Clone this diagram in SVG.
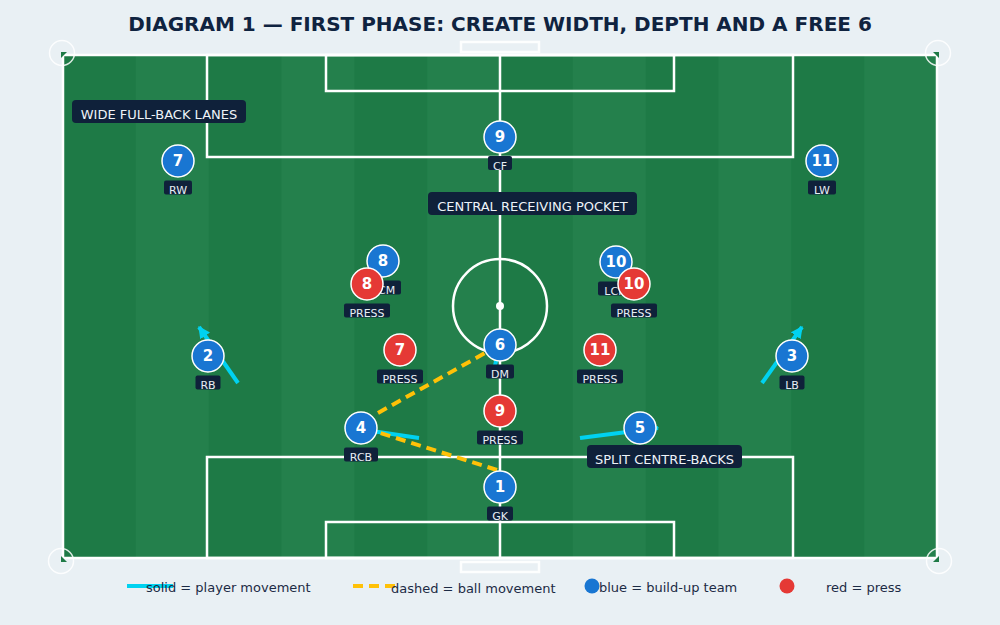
<svg xmlns="http://www.w3.org/2000/svg" width="1000" height="625" viewBox="0 0 1000 625">
  <defs>
    <marker id="arrow" viewBox="0 0 10 10" refX="9" refY="5" markerWidth="3" markerHeight="3" orient="auto" markerUnits="strokeWidth">
      <path d="M0,0 L10,5 L0,10 z" fill="#00d2f0"/>
    </marker>
  </defs>
  <style>
    .title { font-family: "DejaVu Sans", sans-serif; font-weight: bold; font-size: 20px; fill: #0f2340; }
    .line { fill: none; stroke: #ffffff; stroke-width: 2.5; }
    .corner { fill: none; stroke: #ffffff; stroke-opacity: 0.85; stroke-width: 1.5; }
    .flag { fill: #1e7a46; }
    .stripe { fill: #24804c; }
    .blue { fill: #1976d2; stroke: #ffffff; stroke-width: 1.5; }
    .red { fill: #e53935; stroke: #ffffff; stroke-width: 1.5; }
    .num { font-family: "DejaVu Sans", sans-serif; font-weight: bold; font-size: 15px; fill: #ffffff; text-anchor: middle; }
    .tag { fill: #0f213a; }
    .tagtxt { font-family: "DejaVu Sans", sans-serif; font-size: 11px; fill: #e8eef5; text-anchor: middle; }
    .callout { fill: #0f213a; }
    .calltxt { font-family: "DejaVu Sans", sans-serif; font-size: 13px; fill: #eef3f8; text-anchor: middle; }
    .move { fill: none; stroke: #00d2f0; stroke-width: 4; }
    .ball { fill: none; stroke: #ffc107; stroke-width: 4; stroke-dasharray: 10 6; }
    .legtxt { font-family: "DejaVu Sans", sans-serif; font-size: 13px; fill: #1c2b45; }
  </style>

  <rect x="0" y="0" width="1000" height="625" fill="#e9f0f4"/>
  <text class="title" x="500" y="31" text-anchor="middle">DIAGRAM 1 — FIRST PHASE: CREATE WIDTH, DEPTH AND A FREE 6</text>

  <g id="pitch">
    <rect x="63" y="55" width="874" height="503" fill="#1e7a46"/>
    <rect class="stripe" x="135.8" y="55" width="72.9" height="503"/>
    <rect class="stripe" x="281.5" y="55" width="72.9" height="503"/>
    <rect class="stripe" x="427.2" y="55" width="72.8" height="503"/>
    <rect class="stripe" x="572.8" y="55" width="72.9" height="503"/>
    <rect class="stripe" x="718.5" y="55" width="72.8" height="503"/>
    <rect class="stripe" x="864.2" y="55" width="72.8" height="503"/>
    <rect class="line" x="63" y="55" width="874" height="503"/>
    <line class="line" x1="500" y1="55" x2="500" y2="558"/>
    <circle class="line" cx="500" cy="306" r="47"/>
    <circle cx="500" cy="306" r="4" fill="#ffffff"/>
    <rect class="line" x="207" y="55" width="586" height="102"/>
    <rect class="line" x="326" y="55" width="348" height="36"/>
    <rect class="line" x="207" y="457" width="586" height="101"/>
    <rect class="line" x="326" y="522" width="348" height="36"/>
    <rect x="461" y="42" width="78" height="10" fill="none" stroke="#ffffff" stroke-width="2.5" stroke-opacity="0.9"/>
    <rect x="461" y="562" width="78" height="10" fill="none" stroke="#ffffff" stroke-width="2.5" stroke-opacity="0.9"/>
    <polygon class="flag" points="61,52 67,52 61,58"/>
    <polygon class="flag" points="939,52 933,52 939,58"/>
    <polygon class="flag" points="61,562 61,556 67,562"/>
    <polygon class="flag" points="939,562 939,556 933,562"/>
    <circle class="corner" cx="62" cy="53" r="12.5"/>
    <circle class="corner" cx="938" cy="53" r="12.5"/>
    <circle class="corner" cx="61" cy="561" r="12.5"/>
    <circle class="corner" cx="939" cy="561" r="12.5"/>
  </g>

  <g id="connectors">
    <line class="move" x1="238" y1="383" x2="199" y2="327" marker-end="url(#arrow)"/>
    <line class="move" x1="762" y1="383" x2="802" y2="327" marker-end="url(#arrow)"/>
    <line class="move" x1="419" y1="438" x2="345" y2="427" marker-end="url(#arrow)"/>
    <line class="move" x1="580" y1="438" x2="658" y2="428" marker-end="url(#arrow)"/>
    <line class="move" x1="494" y1="370" x2="499" y2="348"/>
    <line class="ball" x1="497" y1="470" x2="377" y2="432"/>
    <line class="ball" x1="378" y1="413" x2="485" y2="353"/>
  </g>

  <g id="node-cf"><circle class="blue" cx="500" cy="137" r="16"/><text class="num" x="500" y="142">9</text><rect class="tag" x="488" y="156" width="24" height="14" rx="2"/><text class="tagtxt" x="500" y="169.5">CF</text></g>
  <g id="node-rw"><circle class="blue" cx="178" cy="161" r="16"/><text class="num" x="178" y="166">7</text><rect class="tag" x="164" y="180.5" width="28" height="14" rx="2"/><text class="tagtxt" x="178" y="193.5">RW</text></g>
  <g id="node-lw"><circle class="blue" cx="822" cy="161" r="16"/><text class="num" x="822" y="166">11</text><rect class="tag" x="808" y="180.5" width="28" height="14" rx="2"/><text class="tagtxt" x="822" y="193.5">LW</text></g>
  <g id="node-rcm"><circle class="blue" cx="383" cy="261" r="16"/><text class="num" x="383" y="266">8</text><rect class="tag" x="365" y="280.5" width="36" height="14" rx="2"/><text class="tagtxt" x="383" y="293.5">RCM</text></g>
  <g id="node-lcm"><circle class="blue" cx="616" cy="262" r="16"/><text class="num" x="616" y="267">10</text><rect class="tag" x="598" y="281.5" width="36" height="14" rx="2"/><text class="tagtxt" x="616" y="294.5">LCM</text></g>
  <g id="node-rb"><circle class="blue" cx="208" cy="356" r="16"/><text class="num" x="208" y="361">2</text><rect class="tag" x="195.5" y="375.5" width="25" height="14" rx="2"/><text class="tagtxt" x="208" y="388.5">RB</text></g>
  <g id="node-lb"><circle class="blue" cx="792" cy="356" r="16"/><text class="num" x="792" y="361">3</text><rect class="tag" x="779.5" y="375.5" width="25" height="14" rx="2"/><text class="tagtxt" x="792" y="388.5">LB</text></g>
  <g id="node-dm"><circle class="blue" cx="500" cy="345" r="16"/><text class="num" x="500" y="350">6</text><rect class="tag" x="486" y="364.5" width="28" height="14" rx="2"/><text class="tagtxt" x="500" y="377.5">DM</text></g>
  <g id="node-rcb"><circle class="blue" cx="361" cy="428" r="16"/><text class="num" x="361" y="433">4</text><rect class="tag" x="344" y="447.5" width="34" height="14" rx="2"/><text class="tagtxt" x="361" y="460.5">RCB</text></g>
  <g id="node-lcb"><circle class="blue" cx="640" cy="428" r="16"/><text class="num" x="640" y="433">5</text></g>
  <g id="node-gk"><circle class="blue" cx="500" cy="487" r="16"/><text class="num" x="500" y="492">1</text><rect class="tag" x="487" y="506.5" width="26" height="14" rx="2"/><text class="tagtxt" x="500" y="519.5">GK</text></g>

  <g id="press-8"><circle class="red" cx="367" cy="284" r="16"/><text class="num" x="367" y="289">8</text><rect class="tag" x="344" y="303.5" width="46" height="14" rx="2"/><text class="tagtxt" x="367" y="316.5">PRESS</text></g>
  <g id="press-10"><circle class="red" cx="634" cy="284" r="16"/><text class="num" x="634" y="289">10</text><rect class="tag" x="611" y="303.5" width="46" height="14" rx="2"/><text class="tagtxt" x="634" y="316.5">PRESS</text></g>
  <g id="press-7"><circle class="red" cx="400" cy="350" r="16"/><text class="num" x="400" y="355">7</text><rect class="tag" x="377" y="369.5" width="46" height="14" rx="2"/><text class="tagtxt" x="400" y="382.5">PRESS</text></g>
  <g id="press-11"><circle class="red" cx="600" cy="350" r="16"/><text class="num" x="600" y="355">11</text><rect class="tag" x="577" y="369.5" width="46" height="14" rx="2"/><text class="tagtxt" x="600" y="382.5">PRESS</text></g>
  <g id="press-9"><circle class="red" cx="500" cy="411" r="16"/><text class="num" x="500" y="416">9</text><rect class="tag" x="477" y="430.5" width="46" height="14" rx="2"/><text class="tagtxt" x="500" y="443.5">PRESS</text></g>

  <g id="callout-wide"><rect class="callout" x="72" y="100" width="174" height="23" rx="4"/><text class="calltxt" x="159" y="118.5">WIDE FULL-BACK LANES</text></g>
  <g id="callout-pocket"><rect class="callout" x="428" y="192" width="209" height="23" rx="4"/><text class="calltxt" x="532.5" y="210.5">CENTRAL RECEIVING POCKET</text></g>
  <g id="callout-split"><rect class="callout" x="587" y="445" width="155" height="23" rx="4"/><text class="calltxt" x="664.5" y="463.5">SPLIT CENTRE-BACKS</text></g>

  <g id="legend">
    <line x1="127" y1="586" x2="173" y2="586" stroke="#00d2f0" stroke-width="4"/>
    <text class="legtxt" x="146" y="592">solid = player movement</text>
    <line x1="353" y1="586" x2="399" y2="586" stroke="#ffc107" stroke-width="4" stroke-dasharray="10 6"/>
    <text class="legtxt" x="391" y="593">dashed = ball movement</text>
    <circle cx="592" cy="586" r="7.5" fill="#1976d2"/>
    <text class="legtxt" x="599" y="592">blue = build-up team</text>
    <circle cx="787" cy="586" r="7.5" fill="#e53935"/>
    <text class="legtxt" x="826" y="592">red = press</text>
  </g>
</svg>
